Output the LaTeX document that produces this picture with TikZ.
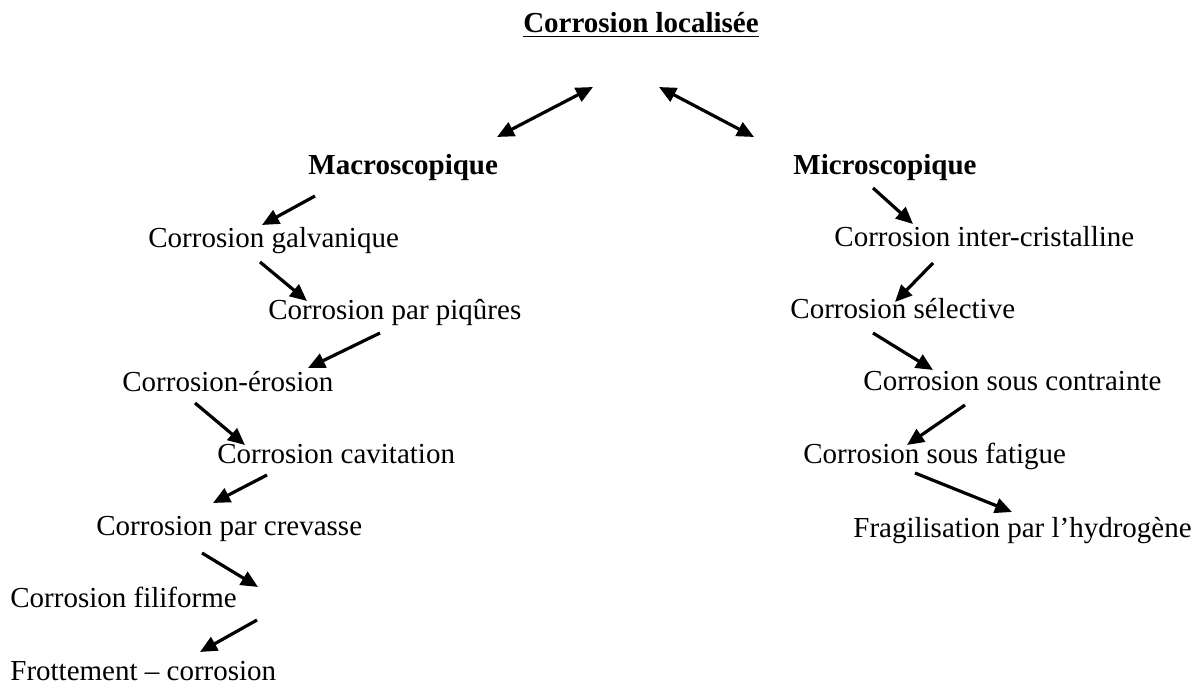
\documentclass[tikz,border=0pt]{standalone}
\usepackage{fontspec}
\setmainfont{Liberation Serif}
\usetikzlibrary{arrows.meta}
\tikzset{
    item/.style = {
        anchor=base west, inner sep=0pt,
        font=\fontsize{14.5}{17}\selectfont
    },
    head/.style = {
        item, font=\fontsize{14.5}{17}\selectfont\bfseries
    },
    arrow/.style = {
        -{Triangle[length=8.5pt,width=7.5pt]}, line width=1.6pt
    },
    twoway/.style = {
        {Triangle[length=8.5pt,width=7.5pt]}-{Triangle[length=8.5pt,width=7.5pt]}, line width=1.6pt
    }
}
\begin{document}
\begin{tikzpicture}[x=0.5pt, y=-0.5pt]
\useasboundingbox (0,0) rectangle (1195,684);

\node (title) [head, anchor=base] at (641,33) {\underline{Corrosion localisée}};
\node (macro) [head] at (308,175) {Macroscopique};
\node (micro) [head] at (793,175) {Microscopique};

% macroscopique
\node (galv) [item] at (148,248) {Corrosion galvanique};
\node (piq) [item] at (268,320) {Corrosion par piqûres};
\node (eros) [item] at (122,392) {Corrosion-érosion};
\node (cavi) [item] at (217,463) {Corrosion cavitation};
\node (crev) [item] at (96,535) {Corrosion par crevasse};
\node (fili) [item] at (10,607) {Corrosion filiforme};
\node (frot) [item] at (10,680) {Frottement – corrosion};

% microscopique
\node (inter) [item] at (834,247) {Corrosion inter-cristalline};
\node (selec) [item] at (790,319) {Corrosion sélective};
\node (contr) [item] at (863,391) {Corrosion sous contrainte};
\node (fatig) [item] at (803,463) {Corrosion sous fatigue};
\node (fragi) [item] at (853,537) {Fragilisation par l’hydrogène};

\draw [twoway] ([shift={(189,-38)}]macro.base west) -- ([shift={(-48,54)}]title.base);
\draw [twoway] ([shift={(18,54)}]title.base) -- ([shift={(-39,-38)}]micro.base west);

\draw [arrow] ([shift={(7,21)}]macro.base west) -- ([shift={(114,-23)}]galv.base west);
\draw [arrow] ([shift={(112,14)}]galv.base west) -- ([shift={(39,-19)}]piq.base west);
\draw [arrow] ([shift={(112,13)}]piq.base west) -- ([shift={(186,-24)}]eros.base west);
\draw [arrow] ([shift={(73,11)}]eros.base west) -- ([shift={(28,-18)}]cavi.base west);
\draw [arrow] ([shift={(50,12)}]cavi.base west) -- ([shift={(117,-32)}]crev.base west);
\draw [arrow] ([shift={(106,18)}]crev.base west) -- ([shift={(248,-20)}]fili.base west);
\draw [arrow] ([shift={(247,13)}]fili.base west) -- ([shift={(190,-28)}]frot.base west);

\draw [arrow] ([shift={(80,13)}]micro.base west) -- ([shift={(79,-23)}]inter.base west);
\draw [arrow] ([shift={(99,16)}]inter.base west) -- ([shift={(105,-17)}]selec.base west);
\draw [arrow] ([shift={(83,14)}]selec.base west) -- ([shift={(70,-21)}]contr.base west);
\draw [arrow] ([shift={(102,14)}]contr.base west) -- ([shift={(104,-18)}]fatig.base west);
\draw [arrow] ([shift={(112,10)}]fatig.base west) -- ([shift={(159,-25)}]fragi.base west);

\end{tikzpicture}
\end{document}
